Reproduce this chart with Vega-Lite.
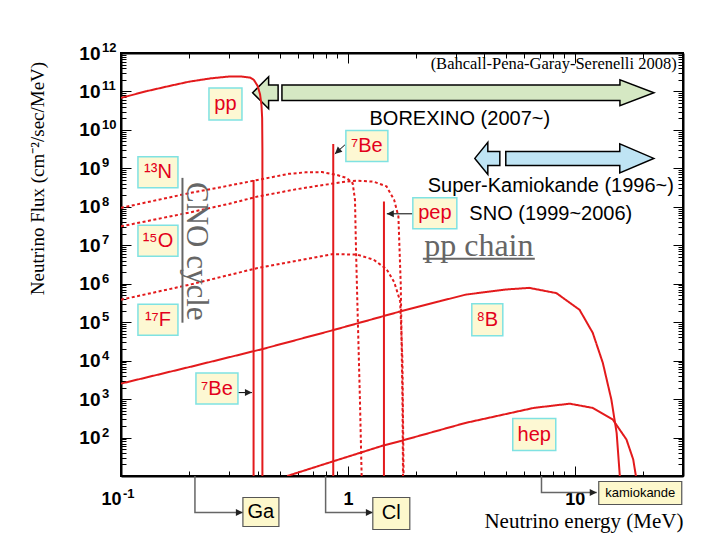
{
"$schema":"https://vega.github.io/schema/vega-lite/v6.json",
"width":562,"height":423,
"autosize":{"type":"none"},
"padding":{"left":121,"top":53,"right":37,"bottom":64},
"background":"white",
"config":{"view":{"stroke":"black","strokeWidth":2}},
"datasets":{
"curves":[
{"s":"pp","t":"solid","E":0.1,"F":6.8e10},{"s":"pp","t":"solid","E":0.13,"F":1.02e11},{"s":"pp","t":"solid","E":0.16,"F":1.35e11},{"s":"pp","t":"solid","E":0.2,"F":1.8e11},{"s":"pp","t":"solid","E":0.25,"F":2.2e11},{"s":"pp","t":"solid","E":0.3,"F":2.45e11},{"s":"pp","t":"solid","E":0.34,"F":2.45e11},{"s":"pp","t":"solid","E":0.37,"F":2.3e11},{"s":"pp","t":"solid","E":0.385,"F":2.0e11},{"s":"pp","t":"solid","E":0.4,"F":1.4e11},{"s":"pp","t":"solid","E":0.41,"F":8.5e10},{"s":"pp","t":"solid","E":0.416,"F":4.5e10},{"s":"pp","t":"solid","E":0.419,"F":2e10},{"s":"pp","t":"solid","E":0.42,"F":3e9},{"s":"pp","t":"solid","E":0.42,"F":10},
{"s":"be1","t":"solid","E":0.384,"F":10},{"s":"be1","t":"solid","E":0.384,"F":5e8},
{"s":"be2","t":"solid","E":0.862,"F":10},{"s":"be2","t":"solid","E":0.862,"F":4.33e9},
{"s":"pep","t":"solid","E":1.442,"F":10},{"s":"pep","t":"solid","E":1.442,"F":1.37e8},
{"s":"N13","t":"dot","E":0.1,"F":9.4e7},{"s":"N13","t":"dot","E":0.2,"F":2.27e8},{"s":"N13","t":"dot","E":0.3,"F":3.57e8},{"s":"N13","t":"dot","E":0.4,"F":5.0e8},{"s":"N13","t":"dot","E":0.55,"F":7.2e8},{"s":"N13","t":"dot","E":0.65,"F":7.9e8},{"s":"N13","t":"dot","E":0.77,"F":8.0e8},{"s":"N13","t":"dot","E":0.89,"F":6.8e8},{"s":"N13","t":"dot","E":0.99,"F":5.6e8},{"s":"N13","t":"dot","E":1.05,"F":4.1e8},{"s":"N13","t":"dot","E":1.075,"F":1.5e8},{"s":"N13","t":"dot","E":1.085,"F":1e7},{"s":"N13","t":"dot","E":1.1,"F":4e5},{"s":"N13","t":"dot","E":1.13,"F":1e3},{"s":"N13","t":"dot","E":1.15,"F":10},
{"s":"O15","t":"dot","E":0.1,"F":3.1e7},{"s":"O15","t":"dot","E":0.2,"F":7.1e7},{"s":"O15","t":"dot","E":0.3,"F":1.2e8},{"s":"O15","t":"dot","E":0.4,"F":1.85e8},{"s":"O15","t":"dot","E":0.6,"F":2.9e8},{"s":"O15","t":"dot","E":0.78,"F":3.7e8},{"s":"O15","t":"dot","E":0.95,"F":4.4e8},{"s":"O15","t":"dot","E":1.1,"F":4.8e8},{"s":"O15","t":"dot","E":1.3,"F":4.5e8},{"s":"O15","t":"dot","E":1.48,"F":3.4e8},{"s":"O15","t":"dot","E":1.6,"F":1.5e8},{"s":"O15","t":"dot","E":1.67,"F":5.6e7},{"s":"O15","t":"dot","E":1.71,"F":1e6},{"s":"O15","t":"dot","E":1.74,"F":1e3},{"s":"O15","t":"dot","E":1.75,"F":10},
{"s":"F17","t":"dot","E":0.1,"F":3.84e5},{"s":"F17","t":"dot","E":0.2,"F":9.4e5},{"s":"F17","t":"dot","E":0.4,"F":2.56e6},{"s":"F17","t":"dot","E":0.6,"F":4.0e6},{"s":"F17","t":"dot","E":0.86,"F":5.9e6},{"s":"F17","t":"dot","E":1.1,"F":5.7e6},{"s":"F17","t":"dot","E":1.3,"F":4.2e6},{"s":"F17","t":"dot","E":1.48,"F":2.4e6},{"s":"F17","t":"dot","E":1.6,"F":1.1e6},{"s":"F17","t":"dot","E":1.7,"F":3.5e5},{"s":"F17","t":"dot","E":1.74,"F":1e4},{"s":"F17","t":"dot","E":1.76,"F":10},
{"s":"B8","t":"solid","E":0.1,"F":2.53e3},{"s":"B8","t":"solid","E":0.2,"F":6.8e3},{"s":"B8","t":"solid","E":0.42,"F":2.0e4},{"s":"B8","t":"solid","E":0.86,"F":6.2e4},{"s":"B8","t":"solid","E":1.7,"F":1.9e5},{"s":"B8","t":"solid","E":3.3,"F":5.2e5},{"s":"B8","t":"solid","E":5,"F":7.1e5},{"s":"B8","t":"solid","E":6.3,"F":7.8e5},{"s":"B8","t":"solid","E":8.3,"F":5.7e5},{"s":"B8","t":"solid","E":10.5,"F":2.1e5},{"s":"B8","t":"solid","E":12,"F":5.3e4},{"s":"B8","t":"solid","E":13.3,"F":8.7e3},{"s":"B8","t":"solid","E":14.5,"F":970},{"s":"B8","t":"solid","E":15.3,"F":131},{"s":"B8","t":"solid","E":15.8,"F":10},{"s":"B8","t":"solid","E":15.85,"F":1},
{"s":"hep","t":"solid","E":0.54,"F":10},{"s":"hep","t":"solid","E":0.86,"F":24},{"s":"hep","t":"solid","E":1.43,"F":62},{"s":"hep","t":"solid","E":1.69,"F":80},{"s":"hep","t":"solid","E":3.3,"F":240},{"s":"hep","t":"solid","E":6.6,"F":590},{"s":"hep","t":"solid","E":9.5,"F":760},{"s":"hep","t":"solid","E":12,"F":590},{"s":"hep","t":"solid","E":14.7,"F":295},{"s":"hep","t":"solid","E":16.9,"F":89},{"s":"hep","t":"solid","E":18.1,"F":27},{"s":"hep","t":"solid","E":18.6,"F":10},{"s":"hep","t":"solid","E":18.7,"F":1}
],
"arrows":[
{"k":"bor_r","c":"g","E":0.5121,"F":9.25e10},
{"k":"bor_l","c":"g","E":0.3803,"F":9.25e10},
{"k":"sk_r","c":"b","E":4.966,"F":1.818e9},
{"k":"sk_l","c":"b","E":3.627,"F":1.818e9}
],
"labels":[
{"g":"src","lab":"pp","k":"pp","E":0.2887,"F":4.73e10},
{"g":"src","lab":"⁷Be","k":"be","E":1.2125,"F":3.84e9},
{"g":"src","lab":"¹³N","k":"iso","E":0.1455,"F":7.87e8},
{"g":"src","lab":"¹⁵O","k":"iso","E":0.1455,"F":1.309e7},
{"g":"src","lab":"¹⁷F","k":"iso","E":0.1455,"F":1.161e5},
{"g":"src","lab":"⁷Be","k":"be","E":0.2648,"F":1875},
{"g":"src","lab":"pep","k":"pep","E":2.417,"F":6.78e7},
{"g":"src","lab":"⁸B","k":"b8","E":4.117,"F":1.161e5},
{"g":"src","lab":"hep","k":"hep","E":6.63,"F":119.7},
{"g":"det","lab":"Ga","k":"ga","E":0.4137,"F":1.16},
{"g":"det","lab":"Cl","k":"cl","E":1.554,"F":1.06},
{"g":"det","lab":"kamiokande","k":"kam","E":19.44,"F":3.61}
],
"yexp":[
{"E":0.1,"F":1e2,"ex":"2"},{"E":0.1,"F":1e3,"ex":"3"},{"E":0.1,"F":1e4,"ex":"4"},{"E":0.1,"F":1e5,"ex":"5"},{"E":0.1,"F":1e6,"ex":"6"},{"E":0.1,"F":1e7,"ex":"7"},{"E":0.1,"F":1e8,"ex":"8"},{"E":0.1,"F":1e9,"ex":"9"},{"E":0.1,"F":1e10,"ex":"10"},{"E":0.1,"F":1e11,"ex":"11"},{"E":0.1,"F":1e12,"ex":"12"}
],
"xexp":[
{"E":0.1,"F":10,"ex":"-1"}
],
"conn":[
{"id":"ga","E":0.2118,"F":10},{"id":"ga","E":0.2118,"F":1.127},{"id":"ga","E":0.3446,"F":1.127},
{"id":"cl","E":0.7977,"F":10},{"id":"cl","E":0.7977,"F":1.127},{"id":"cl","E":1.289,"F":1.127},
{"id":"kam","E":7.135,"F":10},{"id":"kam","E":7.135,"F":3.73},{"id":"kam","E":12.5,"F":3.73}
],
"heads":[
{"k":"r","E":0.3446,"F":1.127},{"k":"r","E":1.289,"F":1.127},{"k":"r","E":12.5,"F":3.73},{"k":"r","E":0.3777,"F":1475},{"k":"l","E":1.485,"F":6.58e7},{"k":"dl","E":0.8765,"F":2.38e9}
],
"shafts":[
{"E":0.97,"F":4.08e9,"E2":0.8765,"F2":2.38e9},
{"E":0.3277,"F":1475,"E2":0.3777,"F2":1475},
{"E":1.933,"F":6.58e7,"E2":1.485,"F2":6.58e7}
],
"under":[
{"E":2.14,"E2":6.665,"F":4.46e6,"F2":4.46e6},
{"E":0.1866,"E2":0.1866,"F":5.66e8,"F2":9.7e4}
],
"notes":[
{"g":"sans","txt":"BOREXINO (2007~)","E":3.114,"F":1.31e10},
{"g":"sans","txt":"Super-Kamiokande (1996~)","E":7.842,"F":2.455e8},
{"g":"sans","txt":"SNO (1999~2006)","E":7.842,"F":4.59e7},
{"g":"cite","txt":"(Bahcall-Pena-Garay-Serenelli 2008)","E":28.13,"F":3.84e11},
{"g":"pp","txt":"pp chain","E":3.777,"F":5.33e6},
{"g":"cno","txt":"CNO cycle","E":0.1953,"F":6.98e6}
]
},
"layer":[
{"data":{"name":"arrows"},
 "mark":{"type":"point","filled":true,"stroke":"black","strokeWidth":1.5,"opacity":1,"size":4},
 "encoding":{
  "x":{"field":"E","type":"quantitative","scale":{"type":"log","domain":[0.1,30],"nice":false},"axis":null},
  "y":{"field":"F","type":"quantitative","scale":{"type":"log","domain":[10,1e12],"nice":false},"axis":null},
  "shape":{"field":"k","type":"nominal","scale":{"domain":["bor_r","bor_l","sk_r","sk_l"],"range":["M0,-7.8L338,-7.8L338,-13L372,0L338,13L338,7.8L0,7.8Z","M0,0L16,-16L16,-7.8L25.5,-7.8L25.5,7.8L16,7.8L16,16Z","M0,-7L114,-7L114,-14.5L148,0L114,14.5L114,7L0,7Z","M0,0L13,-16L13,-7L25,-7L25,7L13,7L13,16Z"]},"legend":null},
  "fill":{"field":"c","type":"nominal","scale":{"domain":["g","b"],"range":["#d5e8c3","#bfe4f4"]},"legend":null}
 }},
{"data":{"values":[{"E":1,"F":1e6}]},
 "mark":{"type":"point","opacity":0},
 "encoding":{
  "x":{"field":"E","type":"quantitative","scale":{"type":"log","domain":[0.1,30],"nice":false},
   "axis":{"orient":"top","values":[0.1,0.2,0.3,0.4,0.5,0.6,0.7,0.8,0.9,1,2,3,4,5,6,7,8,9,10,20,30],
    "tickSize":{"condition":{"test":"abs(log(datum.value)/LN10 - round(log(datum.value)/LN10)) < 0.001","value":-10},"value":-5},
    "tickColor":"black","tickWidth":1,"domainColor":"black","domainWidth":2,"labels":false,"title":null,"grid":false}},
  "y":{"field":"F","type":"quantitative","scale":{"type":"log","domain":[10,1e12],"nice":false},
   "axis":{"orient":"right","values":[10,20,30,40,50,60,70,80,90,100,200,300,400,500,600,700,800,900,1000,2000,3000,4000,5000,6000,7000,8000,9000,1e4,2e4,3e4,4e4,5e4,6e4,7e4,8e4,9e4,1e5,2e5,3e5,4e5,5e5,6e5,7e5,8e5,9e5,1e6,2e6,3e6,4e6,5e6,6e6,7e6,8e6,9e6,1e7,2e7,3e7,4e7,5e7,6e7,7e7,8e7,9e7,1e8,2e8,3e8,4e8,5e8,6e8,7e8,8e8,9e8,1e9,2e9,3e9,4e9,5e9,6e9,7e9,8e9,9e9,1e10,2e10,3e10,4e10,5e10,6e10,7e10,8e10,9e10,1e11,2e11,3e11,4e11,5e11,6e11,7e11,8e11,9e11,1e12],
    "tickSize":{"condition":{"test":"abs(log(datum.value)/LN10 - round(log(datum.value)/LN10)) < 0.001","value":-10},"value":-5},
    "tickColor":"black","tickWidth":1,"domainColor":"black","domainWidth":2,"labels":false,"title":null,"grid":false}}
 }},
{"data":{"name":"curves"},
 "mark":{"type":"line","color":"#e31a1c","strokeWidth":2,"clip":true},
 "encoding":{
  "x":{"field":"E","type":"quantitative","scale":{"type":"log","domain":[0.1,30],"nice":false},
   "axis":{"orient":"bottom","values":[0.1,0.2,0.3,0.4,0.5,0.6,0.7,0.8,0.9,1,2,3,4,5,6,7,8,9,10,20,30],
    "tickSize":{"condition":{"test":"abs(log(datum.value)/LN10 - round(log(datum.value)/LN10)) < 0.001","value":-10},"value":-5},
    "tickColor":"black","tickWidth":1,"domainColor":"black","domainWidth":2,
    "labelExpr":"abs(datum.value - 0.1) < 1e-9 ? '10' : abs(datum.value - 1) < 1e-9 ? '1' : abs(datum.value - 10) < 1e-9 ? '10' : ''",
    "labelAlign":{"condition":{"test":"datum.value < 0.5","value":"right"},"value":"center"},
    "labelFont":"Liberation Sans","labelFontSize":18,"labelFontWeight":"bold","labelColor":"black","labelPadding":24,"labelOverlap":false,"labelFlush":false,
    "title":"Neutrino energy (MeV)","titleFont":"Liberation Serif","titleFontSize":21,"titleFontWeight":"normal","titleColor":"black","titleAnchor":"end","titleAlign":"right","titleBaseline":"alphabetic","titleY":51,"grid":false}},
  "y":{"field":"F","type":"quantitative","scale":{"type":"log","domain":[10,1e12],"nice":false},
   "axis":{"orient":"left","values":[10,20,30,40,50,60,70,80,90,100,200,300,400,500,600,700,800,900,1000,2000,3000,4000,5000,6000,7000,8000,9000,1e4,2e4,3e4,4e4,5e4,6e4,7e4,8e4,9e4,1e5,2e5,3e5,4e5,5e5,6e5,7e5,8e5,9e5,1e6,2e6,3e6,4e6,5e6,6e6,7e6,8e6,9e6,1e7,2e7,3e7,4e7,5e7,6e7,7e7,8e7,9e7,1e8,2e8,3e8,4e8,5e8,6e8,7e8,8e8,9e8,1e9,2e9,3e9,4e9,5e9,6e9,7e9,8e9,9e9,1e10,2e10,3e10,4e10,5e10,6e10,7e10,8e10,9e10,1e11,2e11,3e11,4e11,5e11,6e11,7e11,8e11,9e11,1e12],
    "tickSize":{"condition":{"test":"abs(log(datum.value)/LN10 - round(log(datum.value)/LN10)) < 0.001","value":-10},"value":-5},
    "tickColor":"black","tickWidth":1,"domainColor":"black","domainWidth":2,
    "labelExpr":"(abs(log(datum.value)/LN10 - round(log(datum.value)/LN10)) > 0.01 || round(log(datum.value)/LN10) < 2) ? '' : '10'",
    "labelFont":"Liberation Sans","labelFontSize":19,"labelFontWeight":"bold","labelColor":"black","labelPadding":31,"labelOverlap":false,"labelFlush":false,"labelAlign":"right","labelBaseline":"middle",
    "title":"Neutrino Flux (cm⁻²/sec/MeV)","titleFont":"Liberation Serif","titleFontSize":19,"titleFontWeight":"normal","titleColor":"black","titleAngle":270,"titleAlign":"center","titleBaseline":"alphabetic","titleX":-78,"titleY":125,"grid":false}},
  "detail":{"field":"s"},
  "strokeDash":{"field":"t","type":"nominal","scale":{"domain":["solid","dot"],"range":[[1,0],[3,2.5]]},"legend":null},
  "order":{"value":null}
 }},
{"data":{"name":"yexp"},
 "mark":{"type":"text","font":"Liberation Sans","fontSize":13,"fontWeight":"bold","color":"black","align":"left","baseline":"alphabetic","dx":-19,"dy":-1,"clip":false},
 "encoding":{
  "x":{"field":"E","type":"quantitative","scale":{"type":"log","domain":[0.1,30],"nice":false},"axis":null},
  "y":{"field":"F","type":"quantitative","scale":{"type":"log","domain":[10,1e12],"nice":false},"axis":null},
  "text":{"field":"ex"}
 }},
{"data":{"name":"xexp"},
 "mark":{"type":"text","font":"Liberation Sans","fontSize":13,"fontWeight":"bold","color":"black","align":"left","baseline":"alphabetic","dx":2,"dy":22,"clip":false},
 "encoding":{
  "x":{"field":"E","type":"quantitative","scale":{"type":"log","domain":[0.1,30],"nice":false},"axis":null},
  "y":{"field":"F","type":"quantitative","scale":{"type":"log","domain":[10,1e12],"nice":false},"axis":null},
  "text":{"field":"ex"}
 }},
{"data":{"name":"conn"},
 "mark":{"type":"line","color":"#666666","strokeWidth":1.5,"clip":false},
 "encoding":{
  "x":{"field":"E","type":"quantitative","scale":{"type":"log","domain":[0.1,30],"nice":false},"axis":null},
  "y":{"field":"F","type":"quantitative","scale":{"type":"log","domain":[10,1e12],"nice":false},"axis":null},
  "detail":{"field":"id"},
  "order":{"value":null}
 }},
{"data":{"name":"shafts"},
 "mark":{"type":"rule","color":"black","strokeWidth":1},
 "encoding":{
  "x":{"field":"E","type":"quantitative","scale":{"type":"log","domain":[0.1,30],"nice":false},"axis":null},
  "y":{"field":"F","type":"quantitative","scale":{"type":"log","domain":[10,1e12],"nice":false},"axis":null},
  "x2":{"field":"E2"},"y2":{"field":"F2"}
 }},
{"data":{"name":"under"},
 "mark":{"type":"rule","color":"#666666","strokeWidth":2},
 "encoding":{
  "x":{"field":"E","type":"quantitative","scale":{"type":"log","domain":[0.1,30],"nice":false},"axis":null},
  "y":{"field":"F","type":"quantitative","scale":{"type":"log","domain":[10,1e12],"nice":false},"axis":null},
  "x2":{"field":"E2"},"y2":{"field":"F2"}
 }},
{"data":{"name":"heads"},
 "mark":{"type":"point","filled":true,"color":"#222222","opacity":1,"size":4,"clip":false},
 "encoding":{
  "x":{"field":"E","type":"quantitative","scale":{"type":"log","domain":[0.1,30],"nice":false},"axis":null},
  "y":{"field":"F","type":"quantitative","scale":{"type":"log","domain":[10,1e12],"nice":false},"axis":null},
  "shape":{"field":"k","type":"nominal","scale":{"domain":["r","l","dl"],"range":["M0,0L-7,-3.5L-7,3.5Z","M0,0L7,-3.5L7,3.5Z","M0,0L7.5,-2.1L2.9,-7.3Z"]},"legend":null}
 }},
{"data":{"name":"labels"},
 "transform":[{"filter":"datum.g == 'src'"}],
 "mark":{"type":"point","filled":true,"fill":"#fdf8d3","stroke":"#7fe2e2","strokeWidth":1.5,"opacity":1,"size":4},
 "encoding":{
  "x":{"field":"E","type":"quantitative","scale":{"type":"log","domain":[0.1,30],"nice":false},"axis":null},
  "y":{"field":"F","type":"quantitative","scale":{"type":"log","domain":[10,1e12],"nice":false},"axis":null},
  "shape":{"field":"k","type":"nominal","scale":{"domain":["pp","iso","be","pep","b8","hep","ga","cl","kam"],"range":["M-16.5,-16H16.5V16H-16.5Z","M-20,-15.5H20V15.5H-20Z","M-21,-15.5H21V15.5H-21Z","M-22,-15.5H22V15.5H-22Z","M-15.5,-16H15.5V16H-15.5Z","M-21.5,-16H21.5V16H-21.5Z","M-18,-14.5H18V14.5H-18Z","M-18.5,-16H18.5V16H-18.5Z","M-41.5,-11.5H41.5V11.5H-41.5Z"]},"legend":null}
 }},
{"data":{"name":"labels"},
 "transform":[{"filter":"datum.g == 'src'"}],
 "mark":{"type":"text","font":"Liberation Sans","fontSize":20,"color":"#e3001b","align":"center","baseline":"middle"},
 "encoding":{
  "x":{"field":"E","type":"quantitative","scale":{"type":"log","domain":[0.1,30],"nice":false},"axis":null},
  "y":{"field":"F","type":"quantitative","scale":{"type":"log","domain":[10,1e12],"nice":false},"axis":null},
  "text":{"field":"lab"}
 }},
{"data":{"name":"labels"},
 "transform":[{"filter":"datum.g == 'det'"}],
 "mark":{"type":"point","filled":true,"fill":"#fdf8cc","stroke":"#555555","strokeWidth":1.2,"opacity":1,"size":4,"clip":false},
 "encoding":{
  "x":{"field":"E","type":"quantitative","scale":{"type":"log","domain":[0.1,30],"nice":false},"axis":null},
  "y":{"field":"F","type":"quantitative","scale":{"type":"log","domain":[10,1e12],"nice":false},"axis":null},
  "shape":{"field":"k","type":"nominal","scale":{"domain":["pp","iso","be","pep","b8","hep","ga","cl","kam"],"range":["M-16.5,-16H16.5V16H-16.5Z","M-20,-15.5H20V15.5H-20Z","M-21,-15.5H21V15.5H-21Z","M-22,-15.5H22V15.5H-22Z","M-15.5,-16H15.5V16H-15.5Z","M-21.5,-16H21.5V16H-21.5Z","M-18,-14.5H18V14.5H-18Z","M-18.5,-16H18.5V16H-18.5Z","M-41.5,-11.5H41.5V11.5H-41.5Z"]},"legend":null}
 }},
{"data":{"name":"labels"},
 "transform":[{"filter":"datum.g == 'det'"}],
 "mark":{"type":"text","font":"Liberation Sans","color":"black","align":"center","baseline":"middle","clip":false},
 "encoding":{
  "x":{"field":"E","type":"quantitative","scale":{"type":"log","domain":[0.1,30],"nice":false},"axis":null},
  "y":{"field":"F","type":"quantitative","scale":{"type":"log","domain":[10,1e12],"nice":false},"axis":null},
  "text":{"field":"lab"},
  "size":{"condition":{"test":"datum.k == 'kam'","value":13},"value":20}
 }},
{"data":{"name":"notes"},
 "transform":[{"filter":"datum.g == 'sans'"}],
 "mark":{"type":"text","font":"Liberation Sans","fontSize":20,"color":"black","align":"center","baseline":"alphabetic"},
 "encoding":{
  "x":{"field":"E","type":"quantitative","scale":{"type":"log","domain":[0.1,30],"nice":false},"axis":null},
  "y":{"field":"F","type":"quantitative","scale":{"type":"log","domain":[10,1e12],"nice":false},"axis":null},
  "text":{"field":"txt"}
 }},
{"data":{"name":"notes"},
 "transform":[{"filter":"datum.g == 'cite'"}],
 "mark":{"type":"text","font":"Liberation Serif","fontSize":16.5,"color":"black","align":"right","baseline":"alphabetic"},
 "encoding":{
  "x":{"field":"E","type":"quantitative","scale":{"type":"log","domain":[0.1,30],"nice":false},"axis":null},
  "y":{"field":"F","type":"quantitative","scale":{"type":"log","domain":[10,1e12],"nice":false},"axis":null},
  "text":{"field":"txt"}
 }},
{"data":{"name":"notes"},
 "transform":[{"filter":"datum.g == 'pp'"}],
 "mark":{"type":"text","font":"Liberation Serif","fontSize":32,"color":"#666666","align":"center","baseline":"alphabetic"},
 "encoding":{
  "x":{"field":"E","type":"quantitative","scale":{"type":"log","domain":[0.1,30],"nice":false},"axis":null},
  "y":{"field":"F","type":"quantitative","scale":{"type":"log","domain":[10,1e12],"nice":false},"axis":null},
  "text":{"field":"txt"}
 }},
{"data":{"name":"notes"},
 "transform":[{"filter":"datum.g == 'cno'"}],
 "mark":{"type":"text","font":"Liberation Serif","fontSize":31,"color":"#666666","align":"center","baseline":"alphabetic","angle":90},
 "encoding":{
  "x":{"field":"E","type":"quantitative","scale":{"type":"log","domain":[0.1,30],"nice":false},"axis":null},
  "y":{"field":"F","type":"quantitative","scale":{"type":"log","domain":[10,1e12],"nice":false},"axis":null},
  "text":{"field":"txt"}
 }}
],
"resolve":{"axis":{"x":"independent","y":"independent"},"scale":{"shape":"independent","fill":"independent"}}
}
